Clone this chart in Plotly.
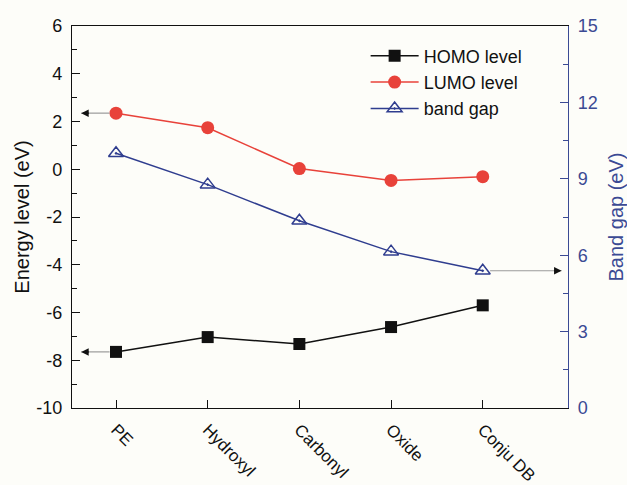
import plotly.graph_objects as go

categories = ["PE", "Hydroxyl", "Carbonyl", "Oxide", "Conju DB"]
homo = [-7.65, -7.03, -7.32, -6.61, -5.70]
lumo = [2.35, 1.74, 0.03, -0.47, -0.31]
band_gap = [10.0, 8.77, 7.35, 6.14, 5.39]
left_ticks = [-10, -8, -6, -4, -2, 0, 2, 4, 6]
right_ticks = [0, 3, 6, 9, 12, 15]

x = list(range(len(categories)))
BLACK = "#111111"
RED = "#e8423a"
BLUE = "#2f3d8f"
AXBLUE = "#3b4a94"
FONT = "Liberation Sans, Arial, sans-serif"

fig = go.Figure()
fig.add_trace(go.Scatter(x=x, y=homo, name="HOMO level", mode="lines+markers",
                         line=dict(color=BLACK, width=1.5),
                         marker=dict(symbol="square", size=12, color=BLACK)))
fig.add_trace(go.Scatter(x=x, y=lumo, name="LUMO level", mode="lines+markers",
                         line=dict(color=RED, width=1.5),
                         marker=dict(symbol="circle", size=13, color=RED)))
fig.add_trace(go.Scatter(x=x, y=band_gap, name="band gap", mode="lines+markers", yaxis="y2",
                         line=dict(color=BLUE, width=1.5),
                         marker=dict(symbol="triangle-up-open-dot", size=13, color=BLUE,
                                     line=dict(width=1.5, color=BLUE))))

# indicator arrows (gray shafts, black heads)
shafts = [
    dict(x0=x[0] - 0.07, x1=x[0] - 0.38, y=lumo[0], yref="y"),
    dict(x0=x[0] - 0.07, x1=x[0] - 0.38, y=homo[0], yref="y"),
    dict(x0=x[-1] + 0.08, x1=x[-1] + 0.86, y=band_gap[-1], yref="y2"),
]
for s in shafts:
    fig.add_shape(type="line", xref="x", yref=s["yref"], x0=s["x0"], x1=s["x1"],
                  y0=s["y"], y1=s["y"], line=dict(color="#9a9a9a", width=1.2))
    direction = 1 if s["x1"] < s["x0"] else -1
    fig.add_annotation(x=s["x1"], y=s["y"], xref="x", yref=s["yref"], ax=9 * direction, ay=0,
                       showarrow=True, arrowhead=2, arrowsize=1, arrowwidth=1.5,
                       arrowcolor=BLACK, text="")

fig.update_layout(
    width=627, height=485,
    margin=dict(l=72, r=59, t=26, b=77, autoexpand=False),
    paper_bgcolor="#fdfdf9", plot_bgcolor="#fdfdf9",
    font=dict(family=FONT, size=18, color=BLACK),
    showlegend=True,
    legend=dict(x=0.592, y=0.97, xanchor="left", yanchor="top", bgcolor="rgba(0,0,0,0)",
                font=dict(size=18), itemwidth=48, tracegroupgap=0),
    xaxis=dict(range=[-0.48, 4.93], tickvals=x, ticktext=categories, tickangle=45,
               showline=True, linecolor=BLACK, linewidth=1.2, mirror=True, automargin=False,
               ticks="inside", ticklen=8, tickcolor=BLACK, showgrid=False, zeroline=False,
               ticklabelstandoff=4,
               tickfont=dict(size=17, color=BLACK)),
    yaxis=dict(range=[-10, 6], tickvals=left_ticks, ticktext=[str(v) for v in left_ticks],
               showline=True, linecolor=BLACK, linewidth=1.2,
               ticks="inside", ticklen=8, tickcolor=BLACK, showgrid=False, zeroline=False,
               automargin=False, ticklabelstandoff=5,
               minor=dict(ticks="inside", ticklen=5, dtick=1, tickcolor=BLACK, showgrid=False),
               title=dict(text="Energy level (eV)", font=dict(size=20, color=BLACK), standoff=1),
               tickfont=dict(size=18, color=BLACK)),
    yaxis2=dict(range=[0, 15], tickvals=right_ticks, overlaying="y", side="right",
                showline=True, linecolor=AXBLUE, linewidth=1.2, automargin=False,
                ticks="inside", ticklen=8, tickcolor=AXBLUE, showgrid=False, zeroline=False,
                ticklabelstandoff=5,
                minor=dict(ticks="inside", ticklen=5, dtick=1.5, tickcolor=AXBLUE, showgrid=False),
                title=dict(text="Band gap (eV)", font=dict(size=20, color=AXBLUE), standoff=12),
                tickfont=dict(size=18, color=AXBLUE)),
)

fig.write_html("out.html", config={"displayModeBar": False},
               post_script="document.body.style.margin='0';document.body.style.overflow='hidden';")
